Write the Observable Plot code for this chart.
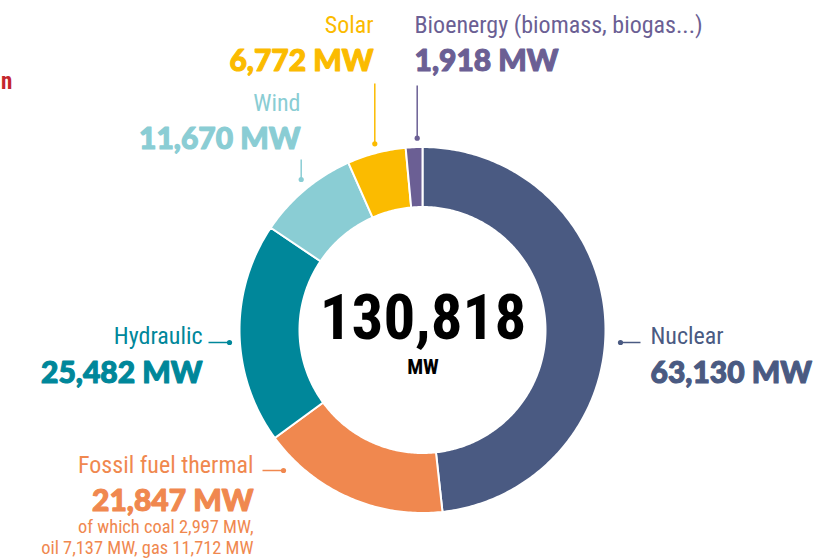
<!DOCTYPE html>
<html>
<head>
<meta charset="utf-8">
<script src="https://cdn.jsdelivr.net/npm/d3@7"></script>
<script src="https://cdn.jsdelivr.net/npm/@observablehq/plot@0.6"></script>
<style>
  html, body { margin: 0; padding: 0; background: #fff; }
  #chart svg { display: block; }
</style>
</head>
<body>
<div id="chart"></div>
<script>
// ---------- data ----------
const categories = ["Nuclear", "Fossil fuel thermal", "Hydraulic", "Wind", "Solar", "Bioenergy (biomass, biogas...)"];
const capacityMW = [63130, 21847, 25482, 11670, 6772, 1918];
const valueLabels = ["63,130 MW", "21,847 MW", "25,482 MW", "11,670 MW", "6,772 MW", "1,918 MW"];
const totalLabel = "130,818";
const unitLabel = "MW";
const fossilDetail = ["of which coal 2,997 MW,", "oil 7,137 MW, gas 11,712 MW"];
const titleFragment = "n";

// ---------- styles / layout ----------
const sliceColors = ["#4a5a82", "#f0884f", "#00879a", "#8acdd4", "#fbbb00", "#6b5f94"];
const W = 829, H = 560;
const cx = 422.5, cy = 330;       // donut centre in pixels
const R = 183, r = 123;           // outer / inner radius
const NARROW = "'Roboto Condensed', 'Liberation Sans Narrow', 'DejaVu Sans Condensed', Roboto, sans-serif";
const HEAVY = "'Lato Black', Lato, 'DejaVu Sans', sans-serif";

// leader + label layout, offsets relative to the centre (one entry per category)
const layout = [
  {dot: [197.5, 12],    end: [217.5, 12],   tx: 227.5,  anchor: "start", nameY: 13,   valueY: 52},
  {dot: [-139.5, 140],  end: [-160.5, 140], tx: -169.5, anchor: "end",   nameY: 142,  valueY: 180},
  {dot: [-193.5, 12],   end: [-214.5, 12],  tx: -220.5, anchor: "end",   nameY: 13,   valueY: 52},
  {dot: [-121.8, -151], end: [-121.8, -171],tx: -122.5, anchor: "end",   nameY: -220, valueY: -182},
  {dot: [-48.2, -186.7],end: [-48.2, -247], tx: -49.5,  anchor: "end",   nameY: -298, valueY: -260},
  {dot: [-5.8, -192.3], end: [-5.8, -245],  tx: -8.5,   anchor: "start", nameY: -298, valueY: -260}
];
const detailY = [202, 223];

// ---------- build slices ----------
const rows = categories.map((name, i) => ({name, value: capacityMW[i], color: sliceColors[i], i}));
const pie = d3.pie().value(d => d.value).sort(null)(rows);
const arcPts = [];
for (const p of pie) {
  const n = Math.max(8, Math.ceil((p.endAngle - p.startAngle) * 80));
  for (let k = 0; k <= n; k++) {
    const a = p.startAngle + (p.endAngle - p.startAngle) * k / n;
    arcPts.push({
      name: p.data.name,
      ox: R * Math.sin(a), oy: -R * Math.cos(a),
      ix: r * Math.sin(a), iy: -r * Math.cos(a)
    });
  }
}

const labelRows = rows.map((d, i) => ({...d, ...layout[i], valueLabel: valueLabels[i]}));
const detailRows = fossilDetail.map((t, j) => ({t, y: detailY[j], x: layout[1].tx, color: sliceColors[1]}));

const colorScale = {domain: categories, range: sliceColors};

const textMarks = [];
for (const anchor of ["start", "end"]) {
  const sub = labelRows.filter(d => d.anchor === anchor);
  textMarks.push(
    Plot.text(sub, {x: "tx", y: "nameY", text: "name", fill: "name", textAnchor: anchor, lineAnchor: "bottom",
      fontFamily: NARROW, fontSize: 24}),
    Plot.text(sub, {x: "tx", y: "valueY", text: "valueLabel", fill: "name", stroke: "name", strokeWidth: 1.1,
      textAnchor: anchor, lineAnchor: "bottom",
      fontFamily: HEAVY, fontWeight: 900, fontSize: 30})
  );
}

const chart = Plot.plot({
  width: W, height: H,
  margin: 0,
  x: {domain: [-cx, W - cx], range: [0, W], axis: null},
  y: {domain: [-cy, H - cy], range: [0, H], axis: null},
  color: colorScale,
  style: {background: "#fff"},
  marks: [
    Plot.area(arcPts, {x1: "ox", y1: "oy", x2: "ix", y2: "iy", z: "name", fill: "name",
      stroke: "white", strokeWidth: 2, curve: "linear"}),
    Plot.link(labelRows, {x1: d => d.dot[0], y1: d => d.dot[1], x2: d => d.end[0], y2: d => d.end[1],
      stroke: "name", strokeWidth: 1.5}),
    Plot.dot(labelRows, {x: d => d.dot[0], y: d => d.dot[1], r: 2.6, fill: "name"}),
    ...textMarks,
    Plot.text(detailRows, {x: "x", y: "y", text: "t", fill: sliceColors[1], textAnchor: "end", lineAnchor: "bottom",
      fontFamily: NARROW, fontSize: 18.4}),
    Plot.text([totalLabel], {x: 0, y: 8, text: d => d, fill: "#000", lineAnchor: "bottom",
      fontFamily: NARROW, fontWeight: 700, fontSize: 63}),
    Plot.text([unitLabel], {x: 0, y: 43, text: d => d, fill: "#000", lineAnchor: "bottom",
      fontFamily: NARROW, fontWeight: 700, fontSize: 21}),
    Plot.text([titleFragment], {x: 0.5 - cx, y: 88.5 - cy, text: d => d, fill: "#c4262e", textAnchor: "start", lineAnchor: "bottom",
      fontFamily: NARROW, fontWeight: 700, fontSize: 23})
  ]
});
document.getElementById("chart").append(chart);
</script>
</body>
</html>
